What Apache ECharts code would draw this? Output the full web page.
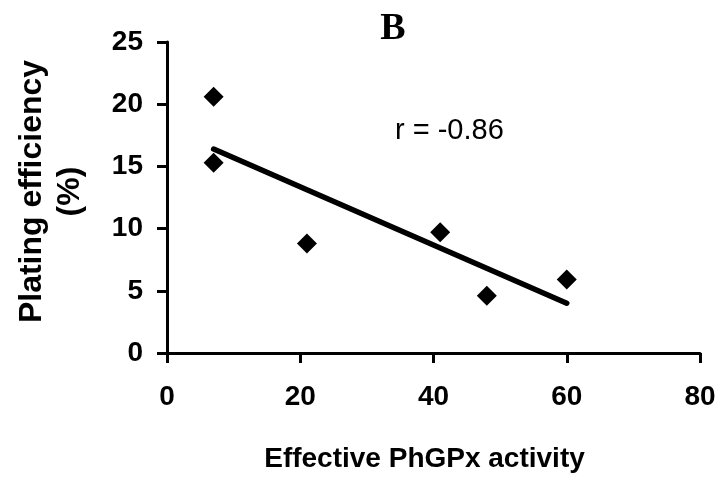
<!DOCTYPE html>
<html>
<head>
<meta charset="utf-8">
<script src="https://cdn.jsdelivr.net/npm/echarts@6/dist/echarts.min.js"></script>
<style>html,body{margin:0;padding:0;background:#fff;}#c{width:722px;height:480px;}</style>
</head>
<body>
<div id="c"></div>
<script>
var activity = [7, 7, 21, 41, 48, 60];
var plating = [20.6, 15.3, 8.8, 9.7, 4.6, 5.9];
var trendX = [7, 60];
var trendY = [16.4, 4.0];
var xTicks = [0, 20, 40, 60, 80];
var yTicks = [0, 5, 10, 15, 20, 25];

var pts = activity.map(function (x, i) { return [x, plating[i]]; });
var trend = trendX.map(function (x, i) { return [x, trendY[i]]; });

var chart = echarts.init(document.getElementById('c'), null, {renderer: 'canvas'});
var axisCommon = {
  axisLine: {show: true, lineStyle: {color: '#000', width: 3}},
  axisTick: {show: true, inside: false, length: 10, lineStyle: {color: '#000', width: 3}},
  splitLine: {show: false},
  axisLabel: {color: '#000', fontFamily: 'Liberation Sans, Arial, sans-serif', fontWeight: 'bold', fontSize: 28}
};
chart.setOption({
  animation: false,
  backgroundColor: '#fff',
  title: {
    text: 'B', left: 388, top: 24, textAlign: 'center', textVerticalAlign: 'middle',
    textStyle: {fontFamily: 'Liberation Serif, Times New Roman, serif', fontWeight: 'bold', fontSize: 38, color: '#000'}
  },
  grid: {left: 167, right: 22, top: 42, bottom: 127, containLabel: false, outerBoundsMode: 'none'},
  xAxis: Object.assign({}, axisCommon, {
    type: 'value', min: xTicks[0], max: xTicks[xTicks.length - 1], interval: 20,
    axisLabel: Object.assign({}, axisCommon.axisLabel, {margin: 30}),
    name: 'Effective PhGPx activity', nameLocation: 'middle', nameGap: 92,
    nameTextStyle: {color: '#000', fontFamily: 'Liberation Sans, Arial, sans-serif', fontWeight: 'bold', fontSize: 28, padding: [0, 18, 0, 0]}
  }),
  yAxis: Object.assign({}, axisCommon, {
    type: 'value', min: yTicks[0], max: yTicks[yTicks.length - 1], interval: 5,
    axisLabel: Object.assign({}, axisCommon.axisLabel, {margin: 24}),
    name: 'Plating efficiency\n(%)', nameLocation: 'middle', nameRotate: 90, nameGap: 78,
    nameTextStyle: {color: '#000', fontFamily: 'Liberation Sans, Arial, sans-serif', fontWeight: 'bold', fontSize: 32, lineHeight: 38, align: 'center', padding: [0, 0, 0, 12]}
  }),
  graphic: [{
    type: 'text', left: 395, top: 116,
    style: {text: 'r = -0.86', fill: '#000', font: '29px "Liberation Sans", Arial, sans-serif'}
  }],
  series: [{
    type: 'line', data: trend, symbol: 'none', silent: true,
    lineStyle: {color: '#000', width: 5.5, cap: 'round'}, z: 2
  }, {
    type: 'scatter', data: pts, symbol: 'diamond', symbolSize: 20,
    itemStyle: {color: '#000', opacity: 1}, z: 3
  }]
});
</script>
</body>
</html>
